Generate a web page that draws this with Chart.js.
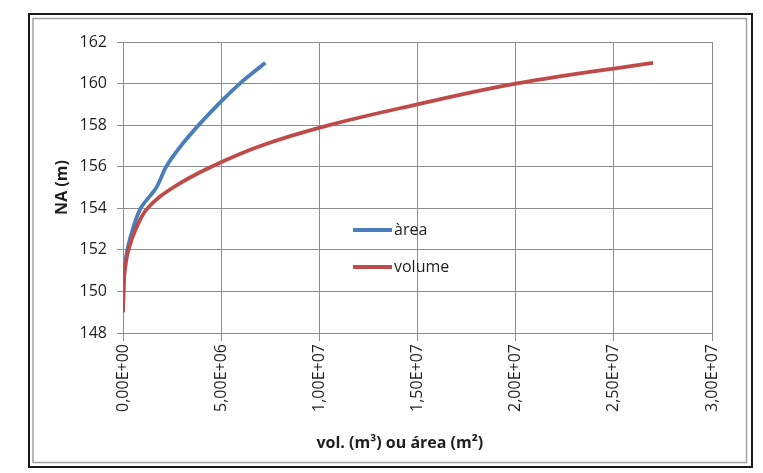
<!DOCTYPE html>
<html>
<head>
<meta charset="utf-8">
<script src="https://cdn.jsdelivr.net/npm/chart.js@4"></script>
<style>
    body { margin: 0; background: #fff; }
    #wrap { width: 763px; height: 473px; position: relative; }
</style>
</head>
<body>
<div id="wrap"><canvas id="na-chart"></canvas></div>
<script>
// NA (m) levels and the matching area (m2) / volume (m3)
const levels = [149, 150, 151, 152, 153, 154, 155, 156, 157, 158, 159, 160, 161];
const areaValues = [0, 0.02e6, 0.07e6, 0.22e6, 0.5e6, 0.9e6, 1.7e6, 2.2e6, 2.95e6, 3.85e6, 4.85e6, 5.95e6, 7.25e6];
const volumeValues = [0, 0.03e6, 0.09e6, 0.28e6, 0.65e6, 1.25e6, 2.55e6, 4.5e6, 7.0e6, 1.05e7, 1.5e7, 2.0e7, 2.7e7];
const seriesNames = ['àrea', 'volume'];
const xTitle = 'vol. (m³) ou área (m²)';
const yTitle = 'NA (m)';

document.addEventListener('DOMContentLoaded', function() {
    const font = "'Open Sans', 'Noto Sans', sans-serif";
    const textColor = '#1e1e1e';
    const gridColor = '#8e8e8e';

    function toPoints(values) {
        return values.map((v, i) => ({ x: v, y: levels[i] }));
    }

    // 5,00E+06 style labels
    function sciLabel(value) {
        const parts = Number(value).toExponential(2).split('e');
        const exp = parseInt(parts[1]);
        const expStr = (exp < 0 ? '-' : '+') + String(Math.abs(exp)).padStart(2, '0');
        return parts[0].replace('.', ',') + 'E' + expStr;
    }

    const framePlugin = {
        id: 'frame',
        beforeDraw(chart) {
            const c = chart.ctx;
            c.save();
            c.fillStyle = '#fff';
            c.fillRect(0, 0, chart.width, chart.height);
            c.strokeStyle = '#1a1a1a';
            c.lineWidth = 2;
            c.strokeRect(29, 14, 723, 453);
            c.strokeStyle = '#a0a0a0';
            c.lineWidth = 1.5;
            c.strokeRect(33, 18.5, 713.5, 444);
            c.restore();
        }
    };

    const insideLegend = {
        id: 'insideLegend',
        afterDraw(chart) {
            const c = chart.ctx;
            const area = chart.chartArea;
            c.save();
            c.font = '16px ' + font;
            c.textBaseline = 'middle';
            chart.data.datasets.forEach((ds, i) => {
                const y = area.top + 188 + i * 37;
                const x = area.left + 230;
                c.strokeStyle = ds.borderColor;
                c.lineWidth = 3.8;
                c.beginPath();
                c.moveTo(x, y);
                c.lineTo(x + 39, y);
                c.stroke();
                c.fillStyle = textColor;
                c.fillText(ds.label, x + 41, y);
            });
            // x axis title, sits a little left of the plot centre as in the original
            c.font = 'bold 16px ' + font;
            c.textAlign = 'center';
            c.fillText(xTitle, area.left + area.width * 0.47, 443);
            c.restore();
        }
    };

    const ctx = document.getElementById('na-chart').getContext('2d');
    const naChart = new Chart(ctx, {
        type: 'scatter',
        data: {
            datasets: [{
                label: seriesNames[0],
                data: toPoints(areaValues),
                borderColor: '#4a7ebb',
                backgroundColor: '#4a7ebb',
                borderWidth: 3.8,
                showLine: true,
                tension: 0.35,
                pointRadius: 0,
                order: 1
            }, {
                label: seriesNames[1],
                data: toPoints(volumeValues),
                borderColor: '#be4b48',
                backgroundColor: '#be4b48',
                borderWidth: 3.8,
                showLine: true,
                tension: 0.4,
                pointRadius: 0,
                order: 0
            }]
        },
        options: {
            responsive: true,
            maintainAspectRatio: false,
            animation: false,
            layout: {
                padding: { left: 0, right: 51, top: 42, bottom: 0 }
            },
            scales: {
                x: {
                    type: 'linear',
                    min: 0,
                    max: 3e7,
                    afterFit: function(scale) { scale.height = 140; },
                    ticks: {
                        stepSize: 5e6,
                        minRotation: 90,
                        maxRotation: 90,
                        padding: 3,
                        color: textColor,
                        font: { family: font, size: 16 },
                        callback: function(value) { return sciLabel(value); }
                    },
                    grid: { color: gridColor, tickLength: 8, lineWidth: 1 },
                    border: { color: gridColor, width: 1 }
                },
                y: {
                    min: 148,
                    max: 162,
                    afterFit: function(scale) { scale.width = 123; },
                    ticks: {
                        stepSize: 2,
                        padding: 10,
                        color: textColor,
                        font: { family: font, size: 16 }
                    },
                    grid: { color: gridColor, tickLength: 6, lineWidth: 1 },
                    border: { color: gridColor, width: 1 },
                    title: {
                        display: true,
                        text: yTitle,
                        color: textColor,
                        font: { family: font, size: 16, weight: 'bold' },
                        padding: { top: 53, bottom: 0 }
                    }
                }
            },
            plugins: {
                legend: { display: false },
                tooltip: { enabled: false }
            }
        },
        plugins: [framePlugin, insideLegend]
    });
});
</script>
</body>
</html>
